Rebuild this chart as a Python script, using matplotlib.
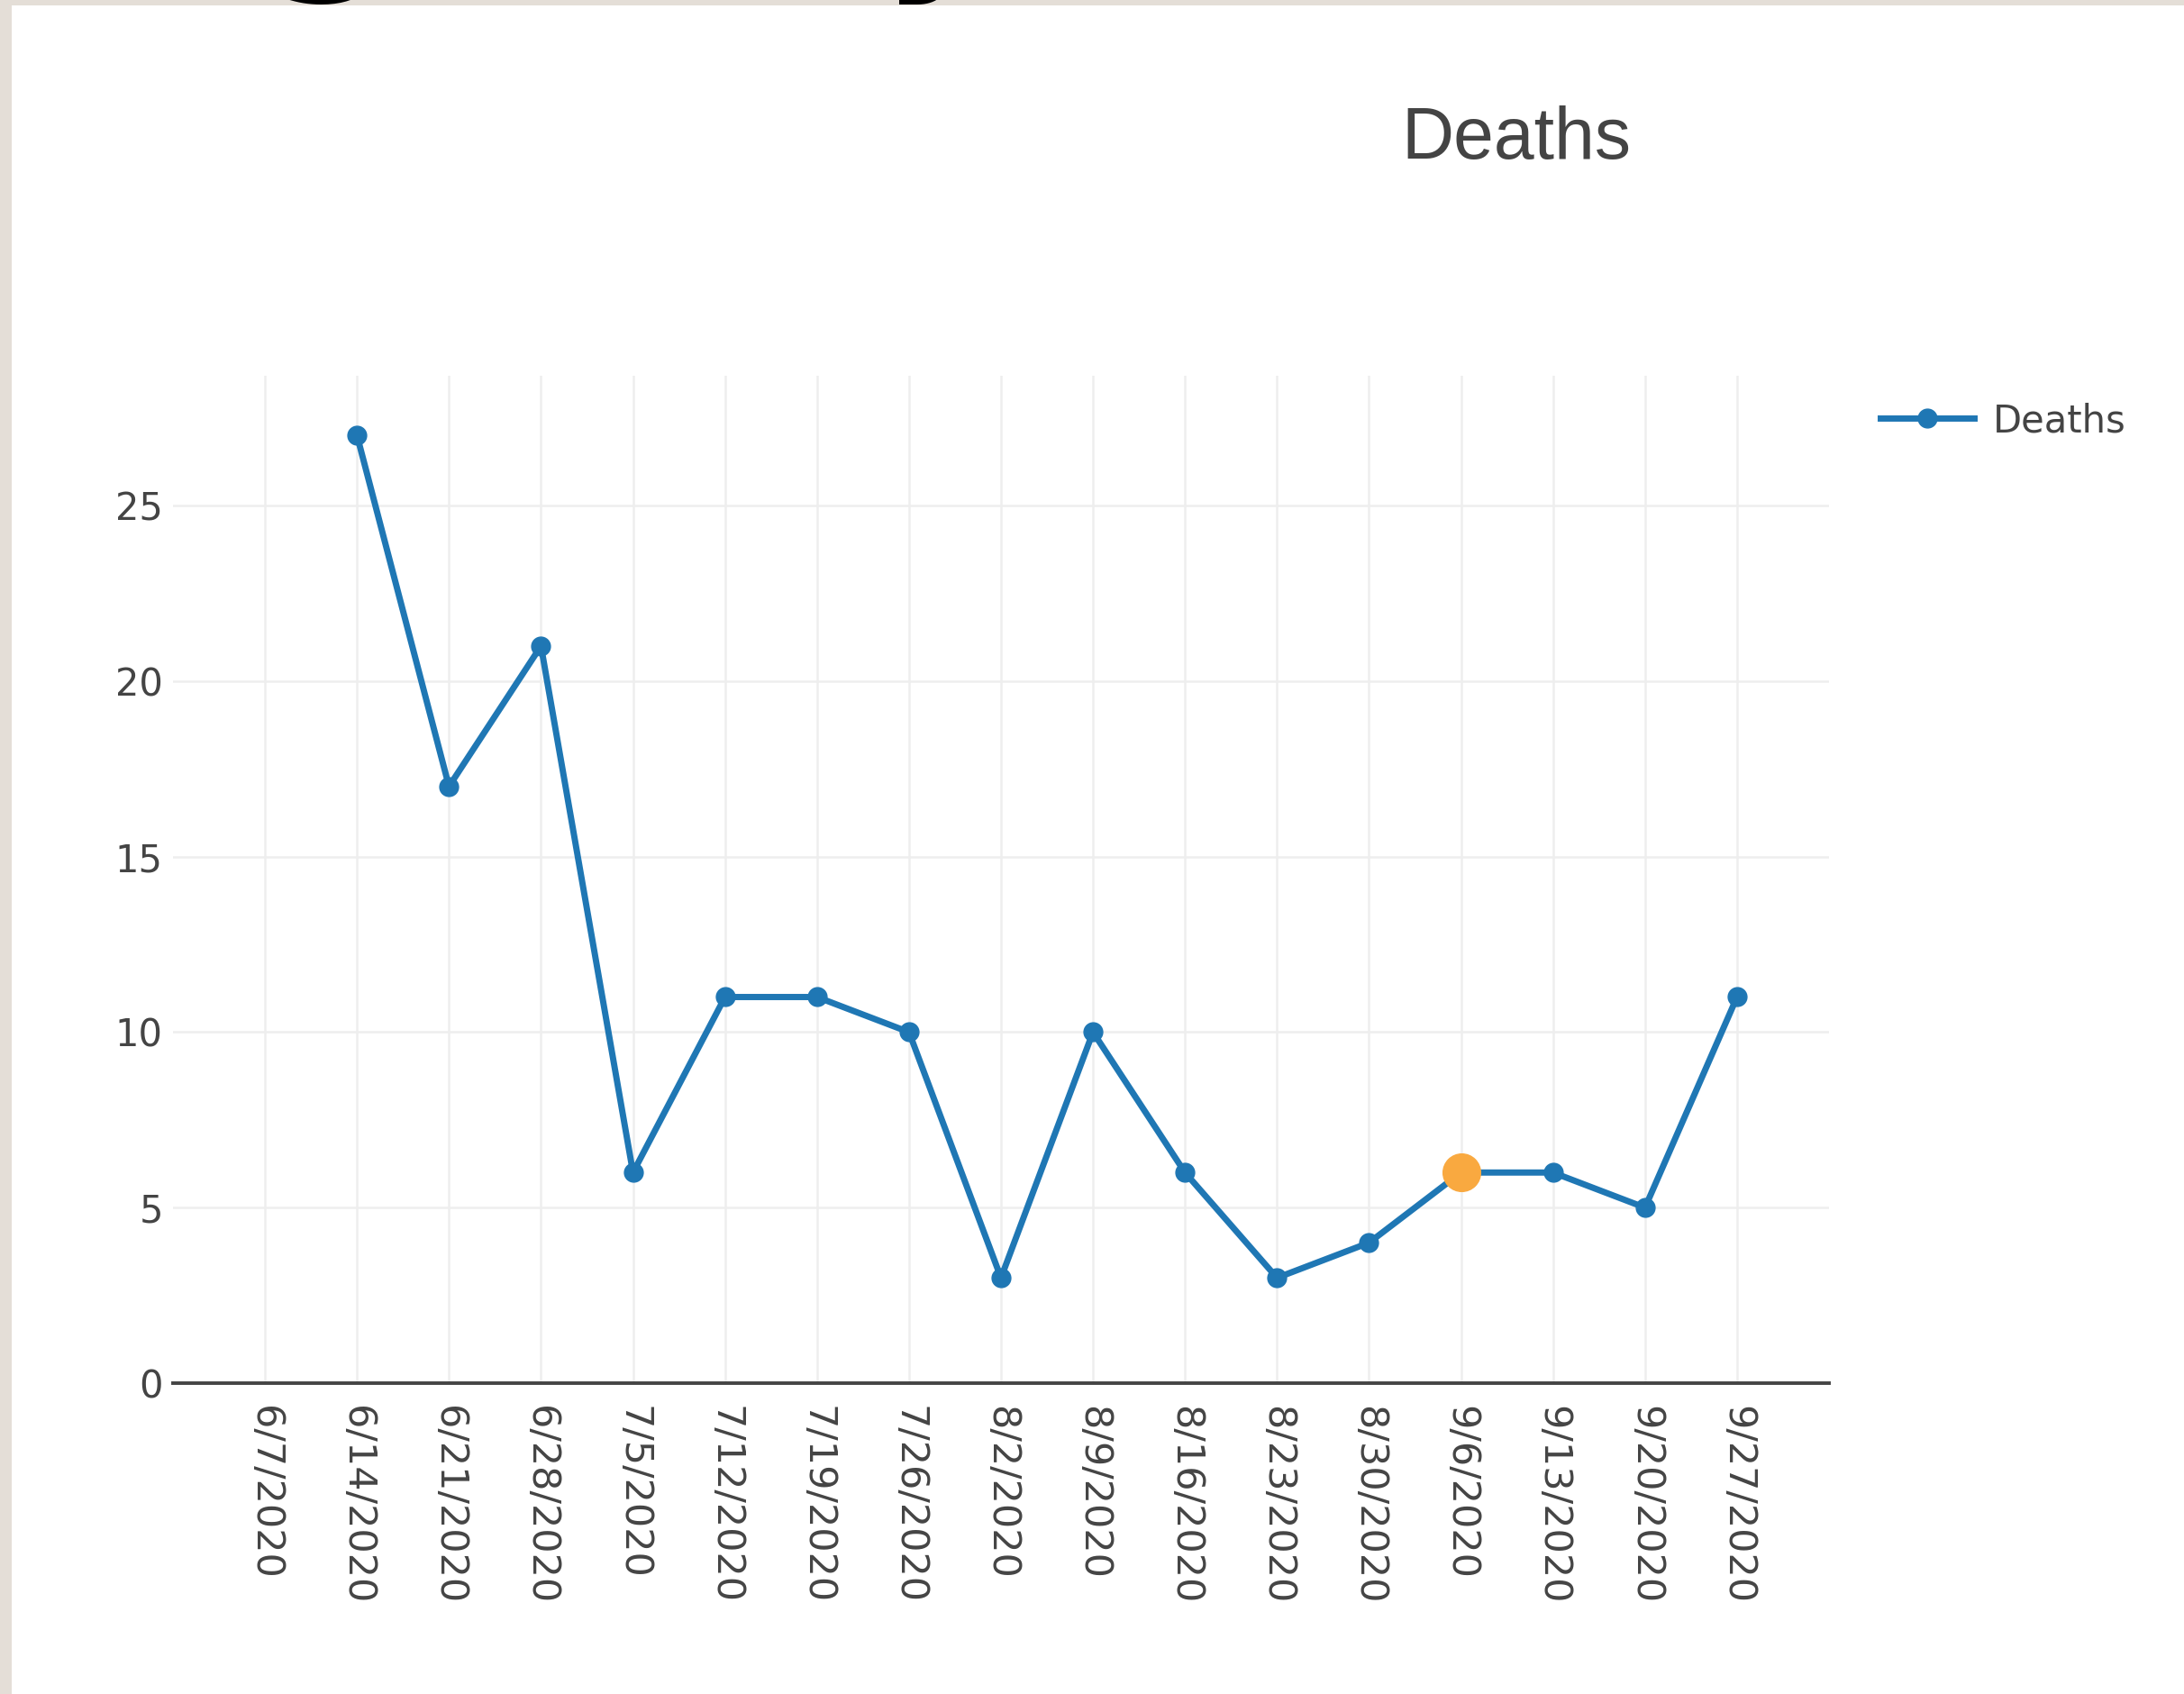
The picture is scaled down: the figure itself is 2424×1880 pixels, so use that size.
import matplotlib.pyplot as plt
import pandas as pd
from matplotlib.patches import Rectangle

# weekly deaths, values
week_labels = ["6/7/2020", "6/14/2020", "6/21/2020", "6/28/2020", "7/5/2020",
               "7/12/2020", "7/19/2020", "7/26/2020", "8/2/2020", "8/9/2020",
               "8/16/2020", "8/23/2020", "8/30/2020", "9/6/2020", "9/13/2020",
               "9/20/2020", "9/27/2020"]
point_dates = ["6/14/2020", "6/21/2020", "6/28/2020", "7/5/2020", "7/12/2020",
               "7/19/2020", "7/26/2020", "8/2/2020", "8/9/2020", "8/16/2020",
               "8/23/2020", "8/30/2020", "9/6/2020", "9/13/2020", "9/20/2020",
               "9/27/2020"]
deaths = [27, 17, 21, 6, 11, 11, 10, 3, 10, 6, 3, 4, 6, 6, 5, 11]
hover_date = ["9/6/2020"]
hover_value = [6]
y_ticks = [0, 5, 10, 15, 20, 25]

W, H = 2424, 1880
fig = plt.figure(figsize=(W / 100, H / 100), dpi=100, facecolor="#e4ded7")

# white page of the screenshot
fig.add_artist(Rectangle((13 / W, 0), 1, 1 - 6 / H, transform=fig.transFigure,
                         facecolor="white", edgecolor="none", zorder=-5))

# bits of the slide heading poking in at the top
fig.text(367 / W, 1 + 38 / H, "g", fontsize=144, fontweight="bold",
         ha="center", va="baseline", color="black")
fig.text(1043 / W, 1 + 38 / H, "y", fontsize=144, fontweight="bold",
         ha="center", va="baseline", color="black")

ax = fig.add_axes([192 / W, 1 - 1535 / H, (2030 - 192) / W, (1535 - 417) / H])
ax.set_facecolor("white")

x = pd.to_datetime(point_dates, format="%m/%d/%Y")
line, = ax.plot(x, deaths, color="#1f77b4", lw=5, marker="o", ms=15,
                label="Deaths", zorder=3, clip_on=False)
ax.plot(pd.to_datetime(hover_date, format="%m/%d/%Y"), hover_value, "o",
        color="#f9a940", ms=30, zorder=4, clip_on=False)

ticks = pd.to_datetime(week_labels, format="%m/%d/%Y")
ax.set_xticks(ticks)
ax.set_xticklabels(week_labels)
ax.set_xlim(pd.Timestamp("2020-05-31"), pd.Timestamp("2020-10-04"))
ax.set_ylim(0, 28.7)
ax.set_yticks(y_ticks)

ax.grid(color="#eeeeee", lw=1.8, zorder=0)
ax.set_axisbelow(True)
for s in ["top", "right", "left"]:
    ax.spines[s].set_visible(False)
ax.spines["bottom"].set_color("#444444")
ax.spines["bottom"].set_linewidth(2.8)
ax.spines["bottom"].set_zorder(2)

ax.tick_params(axis="x", length=0, pad=18, labelsize=31, labelcolor="#444444",
               labelrotation=-90)
ax.tick_params(axis="y", length=0, pad=8, labelsize=30, labelcolor="#444444")

fig.text(1683 / W, 1 - 155 / H, "Deaths", ha="center", va="center",
         fontsize=58, family="Liberation Sans", color="#444444")

fig.legend(handles=[line], labels=["Deaths"], loc="center left",
           bbox_to_anchor=(2087 / W, 1 - 467 / H), frameon=False, fontsize=30,
           handlelength=2.5, handletextpad=0.5, borderpad=0, borderaxespad=0,
           labelcolor="#444444", numpoints=1)

fig.savefig("out.png", dpi=100, facecolor=fig.get_facecolor())
